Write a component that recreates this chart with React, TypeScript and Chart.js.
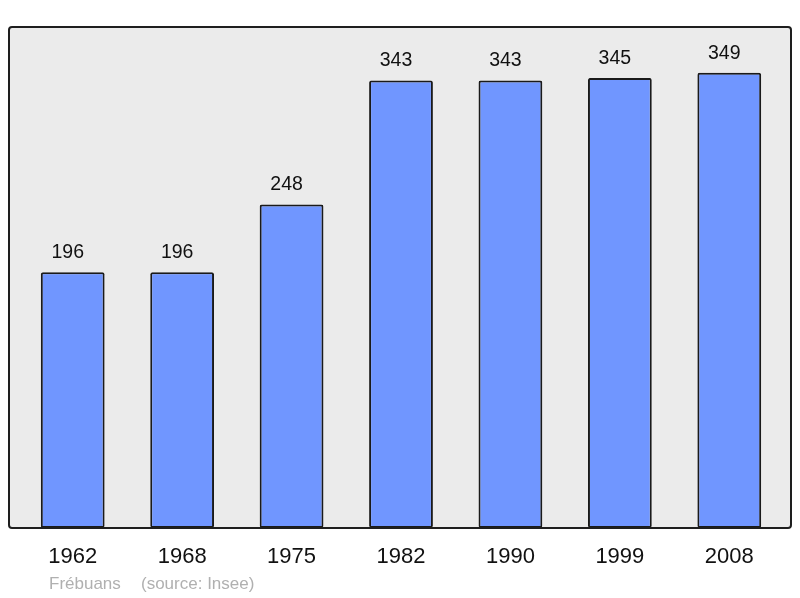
import React, { useEffect, useRef } from "react";
import { Chart, registerables } from "chart.js";

Chart.register(...registerables);

const years = ["1962", "1968", "1975", "1982", "1990", "1999", "2008"];
const population = [196, 196, 248, 343, 343, 345, 349];
const footerName = "Frébuans";
const footerSource = "(source: Insee)";

const FONT = "'Liberation Sans', Arial, sans-serif";

const boxPlugin = {
  id: "boxPlugin",
  beforeDatasetsDraw(chart: any) {
    const ctx = chart.ctx;
    ctx.save();
    ctx.fillStyle = "#ebebeb";
    ctx.beginPath();
    (ctx as any).roundRect(9, 27, 782, 501, 3);
    ctx.fill();
    ctx.restore();
  },
  afterDatasetsDraw(chart: any) {
    const ctx = chart.ctx;
    ctx.save();
    ctx.strokeStyle = "#1e1e1e";
    ctx.lineWidth = 2;
    ctx.beginPath();
    (ctx as any).roundRect(9, 27, 782, 501, 3);
    ctx.stroke();
    // value labels
    const meta = chart.getDatasetMeta(0);
    ctx.fillStyle = "#111";
    ctx.font = `19.5px ${FONT}`;
    ctx.textAlign = "center";
    ctx.textBaseline = "alphabetic";
    meta.data.forEach((bar: any, i: number) => {
      ctx.fillText(String(population[i]), bar.x - 5, bar.y - 14);
    });
    // footer
    ctx.fillStyle = "#b0b0b0";
    ctx.font = `17px ${FONT}`;
    ctx.textAlign = "left";
    ctx.fillText(footerName, 49, 589);
    ctx.fillText(footerSource, 141, 589);
    ctx.restore();
  },
};

export default function App() {
  const ref = useRef<HTMLCanvasElement>(null);
  useEffect(() => {
    if (!ref.current) return;
    const chart = new Chart(ref.current, {
      type: "bar",
      data: {
        labels: years,
        datasets: [
          {
            data: population,
            backgroundColor: "rgb(112,150,255)",
            borderColor: "#1a1a1a",
            borderWidth: 2,
            borderRadius: 2,
            borderSkipped: false,
            barPercentage: 0.583,
            categoryPercentage: 1,
          },
        ],
      },
      options: {
        animation: false,
        responsive: false,
        devicePixelRatio: 1,
        layout: { padding: { left: 18, right: 16, top: 27, bottom: 0 } },
        plugins: { legend: { display: false }, tooltip: { enabled: false } },
        scales: {
          x: {
            grid: { display: false },
            border: { display: false },
            ticks: {
              color: "#111",
              font: { family: FONT, size: 22 },
              padding: 8,
              maxRotation: 0,
            },
            afterFit(scale: any) {
              scale.height = 70;
            },
          },
          y: { display: false, min: 0, max: 384 },
        },
      },
      plugins: [boxPlugin],
    });
    return () => chart.destroy();
  }, []);
  return (
    <div style={{ position: "fixed", left: 0, top: 0, width: 800, height: 598, background: "#fff" }}>
      <canvas ref={ref} width={800} height={598} style={{ width: 800, height: 598 }} />
    </div>
  );
}
